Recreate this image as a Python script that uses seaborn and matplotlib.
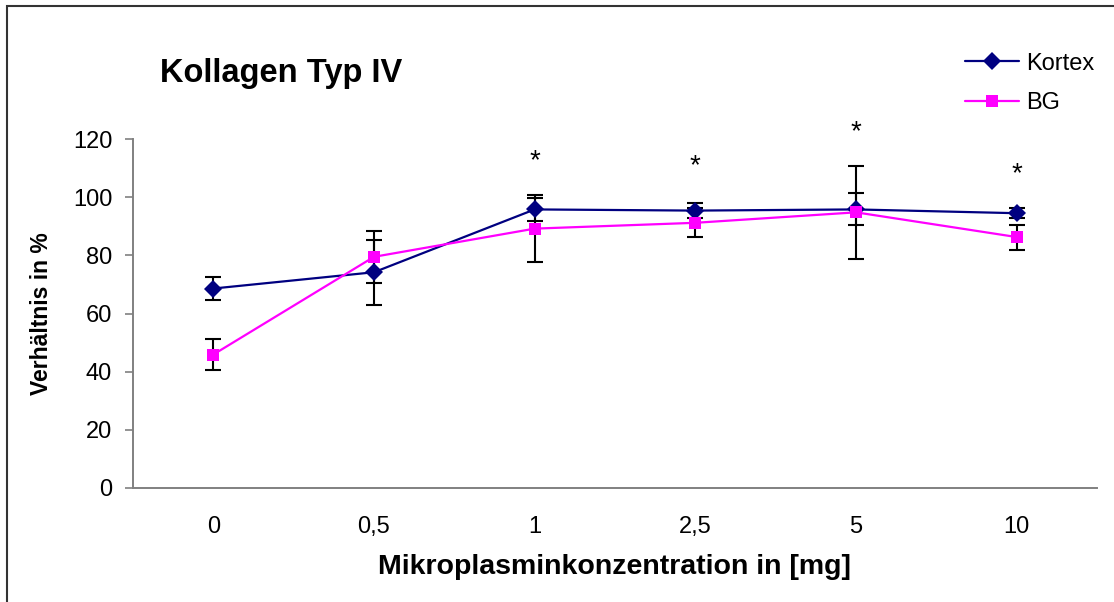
import matplotlib
matplotlib.use("Agg")
import matplotlib.pyplot as plt
import seaborn as sns
import pandas as pd
from matplotlib.patches import Rectangle

categories = ["0", "0,5", "1", "2,5", "5", "10"]
kortex = [68.6, 74.2, 95.8, 95.4, 95.8, 94.5]
kortex_err = [3.8, 11.1, 4.0, 2.7, 5.5, 1.7]
bg = [45.9, 79.5, 89.2, 91.2, 94.8, 86.3]
bg_err = [5.2, 9.0, 11.5, 5.0, 16.0, 4.3]
stars_y = [None, None, 112.5, 110.5, 122.5, 108.0]
yticks = [0, 20, 40, 60, 80, 100, 120]

sns.set_theme(style="white")
plt.rcParams["font.family"] = ["Liberation Sans", "DejaVu Sans"]
plt.rcParams["text.color"] = "black"
plt.rcParams["axes.labelcolor"] = "black"
plt.rcParams["xtick.color"] = "black"
plt.rcParams["ytick.color"] = "black"

fig = plt.figure(figsize=(11.14, 6.02), dpi=100)
ax = fig.add_axes([0.1194, 0.1894, 0.8653, 0.5796])

pos = list(range(len(categories)))
df = pd.DataFrame({
    "pos": pos * 2,
    "value": kortex + bg,
    "series": ["Kortex"] * len(pos) + ["BG"] * len(pos),
})

for vals, errs in [(kortex, kortex_err), (bg, bg_err)]:
    ax.errorbar(pos, vals, yerr=errs, fmt="none", ecolor="black",
                elinewidth=1.5, capsize=5.8, capthick=1.5, zorder=2)

sns.lineplot(data=df, x="pos", y="value", hue="series", style="series",
             markers={"Kortex": "D", "BG": "s"}, dashes=False,
             palette={"Kortex": "#000080", "BG": "#FF00FF"},
             linewidth=1.6, markersize=9, markeredgewidth=0,
             ax=ax, zorder=3)
for ln in ax.lines:
    if ln.get_marker() == "D":
        ln.set_markersize(9.5)
    elif ln.get_marker() == "s":
        ln.set_markersize(8.5)

for p, s in zip(pos, stars_y):
    if s is not None:
        ax.text(p, s, "*", ha="center", va="center", fontsize=20, color="black")

ax.set_xlim(-0.5, len(categories) - 0.5)
ax.set_ylim(0, 120)
ax.set_xticks(pos)
ax.set_xticklabels(categories)
ax.set_yticks(yticks)
ax.tick_params(axis="x", length=0, pad=20, labelsize=17, labelcolor="black")
ax.tick_params(axis="y", length=6, width=1.2, pad=9, labelsize=17,
               colors="#808080", labelcolor="black", left=True)
for side in ["top", "right"]:
    ax.spines[side].set_visible(False)
for side in ["left", "bottom"]:
    ax.spines[side].set_color("#808080")
    ax.spines[side].set_linewidth(1.4)

ax.set_xlabel("Mikroplasminkonzentration in [mg]", fontsize=20.5,
              fontweight="bold", labelpad=12, color="black")
ax.set_ylabel("Verhältnis in %", fontsize=16.5, fontweight="bold", labelpad=14,
              color="black")

fig.text(0.144, 0.878, "Kollagen Typ IV", fontsize=23.5, fontweight="bold",
         ha="left", va="center", color="black")

leg = ax.legend(loc="upper left", bbox_to_anchor=(0.853, 1.275), frameon=False,
                fontsize=17, handlelength=2.3, handletextpad=0.3,
                labelspacing=0.75, borderaxespad=0)
for h in leg.legend_handles:
    h.set_linewidth(1.6)
for t in leg.get_texts():
    t.set_color("black")

fig.patches.append(Rectangle((0.0063, -0.1), 1.1, 1.09, transform=fig.transFigure,
                             fill=False, edgecolor="#333333", linewidth=1.5))

fig.savefig("out.png", dpi=100)
